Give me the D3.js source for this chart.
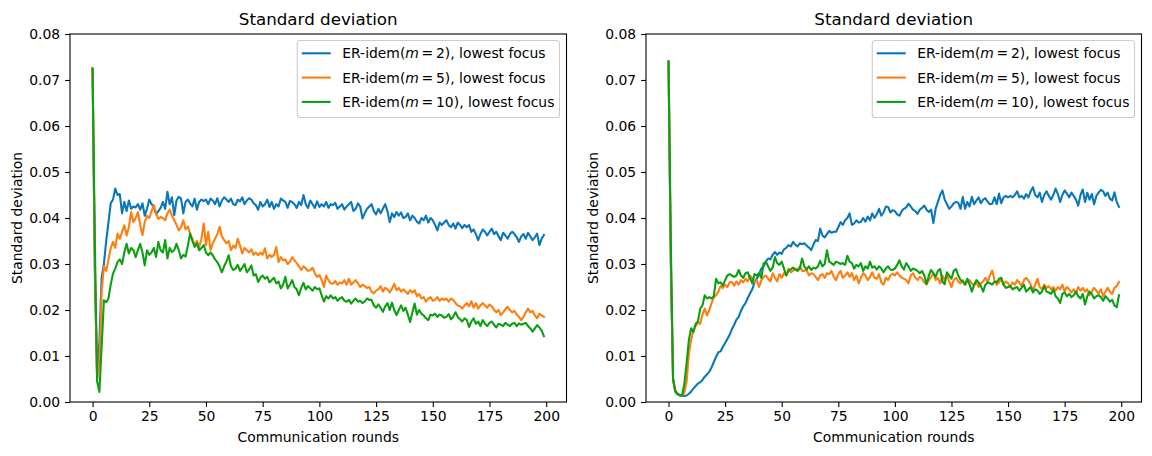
<!DOCTYPE html>
<html><head><meta charset="utf-8">
<script src="https://cdn.jsdelivr.net/npm/d3@7"></script>
<style>body{margin:0;background:#fff} svg text{font-family:"DejaVu Sans",sans-serif;fill:#000}</style>
</head><body><svg id="c" width="1152" height="456"></svg>
<script>
// ---- data ----
const xTicks = [0, 25, 50, 75, 100, 125, 150, 175, 200];
const yTicks = [0, 0.01, 0.02, 0.03, 0.04, 0.05, 0.06, 0.07, 0.08];
const mValues = ["2", "5", "10"];
const titles = ["Standard deviation", "Standard deviation"];

const leftM2 = [0.0725,0.0280,0.0060,0.0130,0.0270,0.0300,0.0350,0.0390,0.0432,0.0440,
0.0464,0.0450,0.0452,0.0410,0.0435,0.0415,0.0438,0.0420,0.0425,0.0423,
0.0430,0.0418,0.0432,0.0405,0.0420,0.0440,0.0430,0.0425,0.0408,0.0415,
0.0422,0.0435,0.0420,0.0457,0.0430,0.0445,0.0406,0.0438,0.0446,0.0442,
0.0410,0.0435,0.0440,0.0432,0.0425,0.0442,0.0418,0.0435,0.0440,0.0437,
0.0440,0.0430,0.0442,0.0438,0.0430,0.0443,0.0425,0.0438,0.0445,0.0440,
0.0435,0.0442,0.0430,0.0428,0.0440,0.0436,0.0445,0.0430,0.0438,0.0443,
0.0440,0.0432,0.0428,0.0418,0.0435,0.0425,0.0430,0.0440,0.0424,0.0435,
0.0420,0.0430,0.0425,0.0442,0.0438,0.0435,0.0422,0.0437,0.0435,0.0430,
0.0422,0.0435,0.0428,0.0450,0.0430,0.0422,0.0438,0.0430,0.0422,0.0436,
0.0424,0.0430,0.0425,0.0435,0.0422,0.0430,0.0428,0.0433,0.0420,0.0425,
0.0430,0.0418,0.0425,0.0430,0.0435,0.0415,0.0420,0.0432,0.0425,0.0399,
0.0410,0.0420,0.0425,0.0430,0.0415,0.0408,0.0420,0.0410,0.0420,0.0430,
0.0415,0.0391,0.0410,0.0402,0.0413,0.0405,0.0412,0.0400,0.0402,0.0410,
0.0395,0.0405,0.0400,0.0392,0.0388,0.0400,0.0395,0.0405,0.0390,0.0400,
0.0395,0.0385,0.0373,0.0390,0.0385,0.0390,0.0395,0.0385,0.0380,0.0388,
0.0377,0.0390,0.0385,0.0378,0.0385,0.0380,0.0385,0.0370,0.0375,0.0365,
0.0352,0.0365,0.0375,0.0370,0.0362,0.0370,0.0377,0.0365,0.0370,0.0360,
0.0352,0.0368,0.0362,0.0355,0.0365,0.0370,0.0365,0.0358,0.0348,0.0360,
0.0365,0.0355,0.0368,0.0360,0.0352,0.0358,0.0366,0.0341,0.0355,0.0363];

const leftM5 = [0.0725,0.0300,0.0048,0.0080,0.0240,0.0295,0.0285,0.0310,0.0334,0.0348,
0.0335,0.0366,0.0355,0.0370,0.0384,0.0362,0.0380,0.0413,0.0391,0.0400,
0.0413,0.0385,0.0363,0.0391,0.0405,0.0400,0.0415,0.0428,0.0410,0.0398,
0.0402,0.0400,0.0395,0.0410,0.0418,0.0405,0.0395,0.0385,0.0373,0.0380,
0.0395,0.0375,0.0382,0.0366,0.0355,0.0341,0.0350,0.0337,0.0355,0.0388,
0.0341,0.0370,0.0330,0.0345,0.0355,0.0365,0.0381,0.0360,0.0352,0.0345,
0.0350,0.0330,0.0340,0.0335,0.0355,0.0340,0.0323,0.0335,0.0330,0.0325,
0.0332,0.0320,0.0325,0.0319,0.0325,0.0320,0.0334,0.0312,0.0320,0.0315,
0.0320,0.0337,0.0304,0.0315,0.0308,0.0310,0.0300,0.0305,0.0315,0.0308,
0.0302,0.0295,0.0287,0.0295,0.0290,0.0285,0.0287,0.0292,0.0280,0.0272,
0.0276,0.0265,0.0250,0.0275,0.0265,0.0258,0.0257,0.0263,0.0255,0.0260,
0.0258,0.0265,0.0255,0.0268,0.0255,0.0260,0.0265,0.0258,0.0250,0.0255,
0.0252,0.0248,0.0250,0.0240,0.0236,0.0242,0.0245,0.0252,0.0240,0.0248,
0.0245,0.0238,0.0246,0.0257,0.0243,0.0248,0.0240,0.0245,0.0240,0.0235,
0.0243,0.0238,0.0243,0.0230,0.0235,0.0225,0.0228,0.0218,0.0225,0.0228,
0.0220,0.0222,0.0228,0.0220,0.0225,0.0222,0.0225,0.0218,0.0225,0.0222,
0.0215,0.0210,0.0208,0.0203,0.0210,0.0215,0.0208,0.0219,0.0205,0.0215,
0.0203,0.0210,0.0215,0.0210,0.0205,0.0212,0.0208,0.0200,0.0195,0.0200,
0.0189,0.0195,0.0202,0.0207,0.0200,0.0195,0.0198,0.0190,0.0185,0.0178,
0.0185,0.0195,0.0203,0.0195,0.0198,0.0188,0.0182,0.0192,0.0188,0.0185];

const leftM10 = [0.0725,0.0350,0.0045,0.0022,0.0120,0.0221,0.0217,0.0225,0.0255,0.0279,
0.0290,0.0304,0.0310,0.0300,0.0325,0.0344,0.0323,0.0335,0.0330,0.0315,
0.0330,0.0344,0.0325,0.0297,0.0330,0.0320,0.0325,0.0335,0.0315,0.0348,
0.0330,0.0325,0.0352,0.0312,0.0335,0.0326,0.0330,0.0344,0.0330,0.0312,
0.0320,0.0316,0.0340,0.0366,0.0350,0.0337,0.0345,0.0330,0.0335,0.0341,
0.0325,0.0319,0.0325,0.0319,0.0310,0.0304,0.0295,0.0282,0.0295,0.0305,
0.0319,0.0295,0.0287,0.0290,0.0298,0.0285,0.0292,0.0300,0.0282,0.0288,
0.0297,0.0275,0.0278,0.0261,0.0270,0.0275,0.0268,0.0272,0.0260,0.0265,
0.0270,0.0258,0.0262,0.0247,0.0255,0.0272,0.0247,0.0255,0.0265,0.0250,
0.0245,0.0232,0.0248,0.0259,0.0245,0.0252,0.0247,0.0242,0.0250,0.0245,
0.0247,0.0232,0.0218,0.0230,0.0225,0.0232,0.0225,0.0228,0.0220,0.0225,
0.0228,0.0220,0.0218,0.0222,0.0214,0.0220,0.0225,0.0218,0.0220,0.0215,
0.0218,0.0225,0.0222,0.0222,0.0210,0.0205,0.0212,0.0205,0.0196,0.0208,
0.0215,0.0200,0.0216,0.0200,0.0189,0.0200,0.0210,0.0198,0.0205,0.0190,
0.0174,0.0195,0.0214,0.0190,0.0200,0.0192,0.0188,0.0182,0.0178,0.0190,
0.0188,0.0192,0.0185,0.0190,0.0188,0.0183,0.0185,0.0191,0.0180,0.0185,
0.0195,0.0185,0.0180,0.0175,0.0182,0.0178,0.0163,0.0175,0.0182,0.0170,
0.0175,0.0165,0.0178,0.0170,0.0165,0.0172,0.0175,0.0168,0.0162,0.0170,
0.0168,0.0165,0.0172,0.0168,0.0165,0.0170,0.0172,0.0165,0.0171,0.0168,
0.0170,0.0172,0.0165,0.0160,0.0153,0.0160,0.0167,0.0162,0.0155,0.0143];

const rightM2 = [0.0740,0.0300,0.0050,0.0022,0.0016,0.0014,0.0013,0.0013,0.0014,0.0018,
0.0023,0.0029,0.0035,0.0040,0.0043,0.0048,0.0055,0.0060,0.0066,0.0075,
0.0087,0.0098,0.0108,0.0110,0.0120,0.0128,0.0137,0.0146,0.0158,0.0168,
0.0179,0.0185,0.0198,0.0208,0.0215,0.0226,0.0236,0.0245,0.0260,0.0268,
0.0278,0.0290,0.0295,0.0305,0.0312,0.0310,0.0320,0.0326,0.0320,0.0325,
0.0322,0.0332,0.0335,0.0341,0.0338,0.0348,0.0342,0.0338,0.0345,0.0343,
0.0345,0.0340,0.0336,0.0330,0.0342,0.0352,0.0350,0.0377,0.0362,0.0358,
0.0365,0.0372,0.0368,0.0370,0.0370,0.0380,0.0391,0.0385,0.0395,0.0400,
0.0410,0.0385,0.0388,0.0395,0.0390,0.0392,0.0400,0.0392,0.0403,0.0395,
0.0410,0.0400,0.0408,0.0420,0.0405,0.0412,0.0425,0.0424,0.0412,0.0417,
0.0415,0.0408,0.0405,0.0415,0.0420,0.0423,0.0431,0.0425,0.0418,0.0415,
0.0409,0.0418,0.0422,0.0427,0.0418,0.0413,0.0418,0.0389,0.0420,0.0435,
0.0450,0.0460,0.0440,0.0430,0.0420,0.0425,0.0432,0.0435,0.0433,0.0420,
0.0446,0.0420,0.0435,0.0425,0.0446,0.0430,0.0438,0.0445,0.0432,0.0440,
0.0443,0.0435,0.0430,0.0431,0.0445,0.0430,0.0453,0.0432,0.0445,0.0448,
0.0445,0.0448,0.0445,0.0450,0.0458,0.0445,0.0448,0.0442,0.0452,0.0445,
0.0458,0.0467,0.0450,0.0445,0.0455,0.0435,0.0450,0.0458,0.0448,0.0440,
0.0450,0.0464,0.0452,0.0435,0.0450,0.0460,0.0453,0.0445,0.0455,0.0448,
0.0440,0.0427,0.0450,0.0462,0.0435,0.0455,0.0440,0.0452,0.0430,0.0448,
0.0455,0.0461,0.0458,0.0448,0.0455,0.0442,0.0438,0.0456,0.0435,0.0424];

const rightM5 = [0.0740,0.0320,0.0050,0.0024,0.0018,0.0015,0.0014,0.0020,0.0045,0.0106,
0.0135,0.0156,0.0165,0.0172,0.0170,0.0190,0.0203,0.0188,0.0200,0.0215,
0.0227,0.0232,0.0240,0.0252,0.0248,0.0255,0.0250,0.0260,0.0261,0.0253,
0.0262,0.0255,0.0265,0.0260,0.0268,0.0262,0.0275,0.0268,0.0260,0.0265,
0.0250,0.0265,0.0272,0.0275,0.0268,0.0262,0.0280,0.0270,0.0262,0.0278,
0.0270,0.0280,0.0275,0.0290,0.0282,0.0285,0.0290,0.0288,0.0295,0.0285,
0.0285,0.0288,0.0275,0.0280,0.0278,0.0272,0.0265,0.0275,0.0278,0.0270,
0.0280,0.0278,0.0285,0.0272,0.0265,0.0278,0.0285,0.0270,0.0275,0.0282,
0.0272,0.0280,0.0265,0.0275,0.0258,0.0270,0.0280,0.0275,0.0265,0.0272,
0.0282,0.0270,0.0268,0.0278,0.0260,0.0255,0.0270,0.0265,0.0275,0.0279,
0.0275,0.0282,0.0275,0.0270,0.0268,0.0265,0.0258,0.0275,0.0280,0.0270,
0.0265,0.0272,0.0268,0.0260,0.0256,0.0265,0.0272,0.0280,0.0265,0.0270,
0.0258,0.0275,0.0265,0.0278,0.0262,0.0250,0.0265,0.0270,0.0262,0.0258,
0.0265,0.0255,0.0262,0.0265,0.0258,0.0253,0.0260,0.0250,0.0258,0.0262,
0.0270,0.0260,0.0275,0.0286,0.0265,0.0255,0.0260,0.0268,0.0255,0.0262,
0.0258,0.0250,0.0260,0.0255,0.0265,0.0260,0.0252,0.0265,0.0270,0.0264,
0.0255,0.0242,0.0255,0.0268,0.0250,0.0245,0.0255,0.0248,0.0252,0.0245,
0.0250,0.0242,0.0250,0.0245,0.0255,0.0240,0.0250,0.0245,0.0238,0.0245,
0.0235,0.0250,0.0242,0.0248,0.0240,0.0245,0.0232,0.0240,0.0248,0.0242,
0.0235,0.0245,0.0230,0.0240,0.0248,0.0240,0.0235,0.0248,0.0252,0.0261];

const rightM10 = [0.0740,0.0350,0.0050,0.0024,0.0018,0.0015,0.0014,0.0040,0.0085,0.0135,
0.0160,0.0152,0.0170,0.0175,0.0203,0.0210,0.0232,0.0225,0.0228,0.0225,
0.0230,0.0268,0.0258,0.0260,0.0253,0.0265,0.0275,0.0278,0.0275,0.0272,
0.0275,0.0287,0.0275,0.0270,0.0280,0.0282,0.0270,0.0258,0.0278,0.0275,
0.0280,0.0270,0.0301,0.0305,0.0295,0.0285,0.0292,0.0315,0.0302,0.0298,
0.0305,0.0290,0.0275,0.0285,0.0288,0.0292,0.0288,0.0285,0.0290,0.0312,
0.0295,0.0288,0.0295,0.0287,0.0292,0.0290,0.0295,0.0307,0.0295,0.0300,
0.0330,0.0305,0.0302,0.0298,0.0305,0.0303,0.0300,0.0302,0.0298,0.0318,
0.0305,0.0302,0.0290,0.0298,0.0295,0.0302,0.0285,0.0295,0.0290,0.0305,
0.0292,0.0295,0.0288,0.0295,0.0290,0.0282,0.0290,0.0295,0.0288,0.0287,
0.0290,0.0298,0.0308,0.0295,0.0288,0.0302,0.0295,0.0285,0.0290,0.0288,
0.0285,0.0280,0.0285,0.0275,0.0256,0.0275,0.0287,0.0280,0.0272,0.0285,
0.0289,0.0262,0.0256,0.0282,0.0275,0.0268,0.0285,0.0289,0.0275,0.0265,
0.0262,0.0255,0.0268,0.0255,0.0240,0.0255,0.0265,0.0260,0.0252,0.0240,
0.0255,0.0260,0.0258,0.0255,0.0262,0.0260,0.0268,0.0270,0.0255,0.0248,
0.0250,0.0252,0.0245,0.0248,0.0250,0.0242,0.0248,0.0255,0.0240,0.0245,
0.0250,0.0238,0.0245,0.0242,0.0235,0.0240,0.0252,0.0240,0.0238,0.0235,
0.0245,0.0230,0.0225,0.0215,0.0235,0.0238,0.0230,0.0235,0.0228,0.0232,
0.0240,0.0230,0.0225,0.0235,0.0212,0.0230,0.0240,0.0235,0.0225,0.0230,
0.0232,0.0228,0.0220,0.0230,0.0225,0.0218,0.0222,0.0210,0.0206,0.0232];

// ---- drawing ----
const colors = ["#0a77b9", "#ff7f0e", "#0c9f12"];
const FS = 13.9;
const svg = d3.select("#c");
const yTop = 34, yBottom = 402;
const panels = [
  {l: 70, r: 566.5, series: [leftM2, leftM5, leftM10], title: titles[0]},
  {l: 646, r: 1141.5, series: [rightM2, rightM5, rightM10], title: titles[1]}
];

panels.forEach((p, pi) => {
  const n = p.series[0].length;
  const x = d3.scaleLinear().domain([-0.05 * (n - 1), (n - 1) * 1.05]).range([p.l, p.r]);
  const y = d3.scaleLinear().domain([0, 0.08]).range([yBottom, yTop]);
  const g = svg.append("g");

  const clipId = "clip" + pi;
  svg.append("clipPath").attr("id", clipId).append("rect")
    .attr("x", p.l).attr("y", yTop).attr("width", p.r - p.l).attr("height", yBottom - yTop);

  const line = d3.line().x((d, i) => x(i)).y(d => y(d));
  const lg = g.append("g").attr("clip-path", `url(#${clipId})`);
  p.series.forEach((s, si) => {
    lg.append("path").datum(s).attr("d", line)
      .attr("fill", "none").attr("stroke", colors[si]).attr("stroke-width", 2.1)
      .attr("stroke-linejoin", "round").attr("stroke-linecap", "square");
  });

  // axes
  const xa = g.append("g").attr("transform", `translate(0,${yBottom})`)
    .call(d3.axisBottom(x).tickValues(xTicks).tickFormat(d3.format("d")).tickSize(4.9).tickPadding(4.2));
  const ya = g.append("g").attr("transform", `translate(${p.l},0)`)
    .call(d3.axisLeft(y).tickValues(yTicks).tickFormat(d3.format(".2f")).tickSize(4.9).tickPadding(4.9));
  [xa, ya].forEach(a => {
    a.select(".domain").remove();
    a.selectAll(".tick line").attr("stroke", "#000").attr("stroke-width", 1.1);
    a.selectAll(".tick text").attr("font-size", FS).attr("font-family", "DejaVu Sans").attr("fill", "#000");
  });

  // spines
  g.append("rect").attr("x", p.l).attr("y", yTop).attr("width", p.r - p.l).attr("height", yBottom - yTop)
    .attr("fill", "none").attr("stroke", "#000").attr("stroke-width", 1.1);

  // title & labels
  const cx = (p.l + p.r) / 2;
  g.append("text").attr("x", cx).attr("y", 25).attr("text-anchor", "middle")
    .attr("font-size", 16.7).text(p.title);
  g.append("text").attr("x", cx).attr("y", 442).attr("text-anchor", "middle")
    .attr("font-size", FS).text("Communication rounds");
  g.append("text").attr("transform", `translate(${p.l - 48},${(yTop + yBottom) / 2}) rotate(-90)`)
    .attr("text-anchor", "middle").attr("font-size", FS).text("Standard deviation");

  // legend
  const leg = g.append("g");
  const box = leg.append("rect").attr("rx", 3).attr("fill", "#fff").attr("fill-opacity", 0.8)
    .attr("stroke", "#cccccc").attr("stroke-width", 1.1);
  const rowY = [yTop + 19.3, yTop + 43.6, yTop + 67.9];
  let maxW = 0;
  const texts = [];
  mValues.forEach((m, i) => {
    const t = leg.append("text").attr("y", rowY[i]).attr("dy", "0.36em").attr("font-size", FS);
    t.append("tspan").text("ER-idem(");
    t.append("tspan").attr("font-style", "italic").text("m");
    t.append("tspan").text("\u2009=\u2009" + m + "), lowest focus");
    maxW = Math.max(maxW, t.node().getComputedTextLength());
    texts.push(t);
  });
  const w = 5.6 + 27.8 + 11.1 + maxW + 5.6;
  const bx = p.r - 7 - w;
  box.attr("x", bx).attr("y", yTop + 6.5).attr("width", w).attr("height", 77);
  mValues.forEach((m, i) => {
    leg.append("line").attr("x1", bx + 4.5).attr("x2", bx + 33.5).attr("y1", rowY[i]).attr("y2", rowY[i])
      .attr("stroke", colors[i]).attr("stroke-width", 2.1);
    texts[i].attr("x", bx + 45);
  });
});
</script></body></html>
